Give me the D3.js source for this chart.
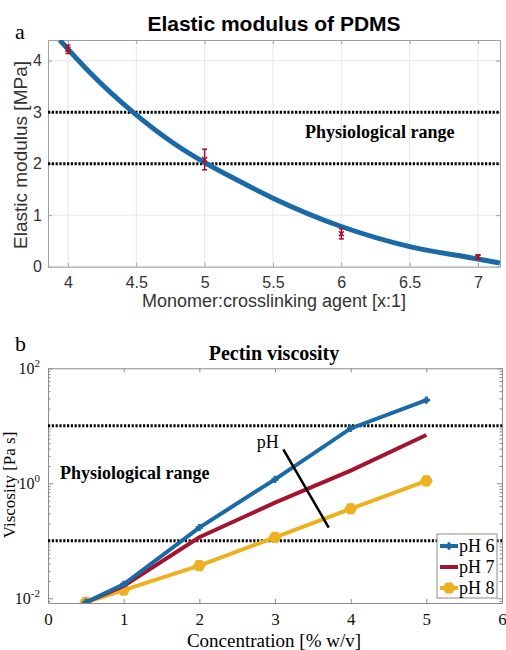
<!DOCTYPE html>
<html>
<head>
<meta charset="utf-8">
<script src="https://cdn.jsdelivr.net/npm/d3@7"></script>
<style>
body { margin: 0; background: #fff; }
svg { display: block; }
</style>
</head>
<body>
<div id="chart"></div>
<script>
// panel a : elastic modulus of PDMS
const modX = [4, 5, 6, 7];
const modY = [4.22, 2.08, 0.64, 0.19];
const modErr = [0.08, 0.2, 0.1, 0.04];
const fitX = [3.94, 4.16, 4.48, 4.77, 5.0, 5.21, 5.5, 6.0, 6.5, 7.0, 7.16];
const fitY = [4.4, 3.77, 2.99, 2.4, 2.02, 1.72, 1.33, 0.78, 0.39, 0.15, 0.07];
const physA = [2, 3];
const ticksAx = [4, 4.5, 5, 5.5, 6, 6.5, 7];
const ticksAy = [0, 1, 2, 3, 4];

// panel b : pectin viscosity
const conc = [0.5, 1, 2, 3, 4, 5];
const visc6 = [0.0085, 0.0175, 0.17, 1.17, 9.0, 28];
const visc7 = [0.0085, 0.0164, 0.115, 0.46, 1.66, 6.9];
const visc8 = [0.0085, 0.0139, 0.037, 0.115, 0.36, 1.1];
const seriesNames = ["pH 6", "pH 7", "pH 8"];
const physB = [0.1, 10];
const ticksBx = [0, 1, 2, 3, 4, 5, 6];
const ticksBy = [-2, 0, 2];
const phLineX = [3.11, 3.71];
const phLineY = [3.9, 0.17];

const SANS = "'Liberation Sans', Arial, sans-serif";
const SERIF = "'Liberation Serif', 'Times New Roman', serif";
const blue = "#1b6aa8", red = "#a2142f", yellow = "#edb120";

const svg = d3.select("#chart").append("svg")
	.attr("width", 506)
	.attr("height", 650);

// ---------- panel a ----------
const ax = d3.scaleLinear().domain([3.854, 7.161]).range([48, 500]);
const ay = d3.scaleLinear().domain([0, 4.4]).range([266.7, 40]);
const ga = svg.append("g");

ga.append("clipPath").attr("id", "clipA").append("rect")
	.attr("x", 48).attr("y", 40).attr("width", 452).attr("height", 226.7);

// grid
ga.selectAll(".gx").data(ticksAx).enter().append("line")
	.attr("x1", d => ax(d)).attr("x2", d => ax(d))
	.attr("y1", 40).attr("y2", 266.7)
	.attr("stroke", "#e6e6e6").attr("stroke-width", 1);
ga.selectAll(".gy").data(ticksAy).enter().append("line")
	.attr("x1", 48).attr("x2", 500)
	.attr("y1", d => ay(d)).attr("y2", d => ay(d))
	.attr("stroke", "#e6e6e6").attr("stroke-width", 1);

// axes (ticks inside, both sides)
ga.append("g").attr("transform", "translate(0,266.7)")
	.call(d3.axisBottom(ax).tickValues(ticksAx).tickSizeInner(-4).tickSizeOuter(0).tickPadding(10).tickFormat(d3.format("")));
ga.append("g").attr("transform", "translate(0,40)")
	.call(d3.axisTop(ax).tickValues(ticksAx).tickSizeInner(-4).tickSizeOuter(0).tickFormat(""));
ga.append("g").attr("transform", "translate(48,0)")
	.call(d3.axisLeft(ay).tickValues(ticksAy).tickSizeInner(-4).tickSizeOuter(0).tickPadding(6).tickFormat(d3.format("")));
ga.append("g").attr("transform", "translate(500,0)")
	.call(d3.axisRight(ay).tickValues(ticksAy).tickSizeInner(-4).tickSizeOuter(0).tickFormat(""));
ga.selectAll(".domain").attr("stroke", "#a0a0a0");
ga.selectAll(".tick line").attr("stroke", "#a0a0a0");
ga.selectAll(".tick text").attr("fill", "#333").style("font-family", SANS).style("font-size", "16px");

// physiological range lines
ga.selectAll(".phys").data(physA).enter().append("line")
	.attr("x1", 48).attr("x2", 500)
	.attr("y1", d => ay(d)).attr("y2", d => ay(d))
	.attr("stroke", "#000").attr("stroke-width", 3).attr("stroke-dasharray", "2.2,1.6");

// fitted curve
const fitLine = d3.line().x(d => ax(d[0])).y(d => ay(d[1])).curve(d3.curveMonotoneX);
ga.append("path").datum(d3.zip(fitX, fitY))
	.attr("clip-path", "url(#clipA)")
	.attr("d", fitLine)
	.attr("fill", "none").attr("stroke", blue).attr("stroke-width", 5);

// measured points with error bars
const pts = d3.zip(modX, modY, modErr);
const eb = ga.selectAll(".eb").data(pts).enter().append("g").attr("stroke", red).attr("stroke-width", 1.6);
eb.append("line").attr("x1", d => ax(d[0])).attr("x2", d => ax(d[0]))
	.attr("y1", d => ay(d[1] - d[2])).attr("y2", d => ay(d[1] + d[2]));
eb.append("line").attr("x1", d => ax(d[0]) - 2.5).attr("x2", d => ax(d[0]) + 2.5)
	.attr("y1", d => ay(d[1] - d[2])).attr("y2", d => ay(d[1] - d[2]));
eb.append("line").attr("x1", d => ax(d[0]) - 2.5).attr("x2", d => ax(d[0]) + 2.5)
	.attr("y1", d => ay(d[1] + d[2])).attr("y2", d => ay(d[1] + d[2]));
eb.append("path")
	.attr("transform", d => `translate(${ax(d[0])},${ay(d[1])})`)
	.attr("d", d3.symbol(d3.symbolX, 18))
	.attr("fill", "none");

// texts panel a
svg.append("text").attr("x", 274).attr("y", 31).attr("text-anchor", "middle")
	.style("font-family", SANS).style("font-weight", "bold").style("font-size", "21px")
	.text("Elastic modulus of PDMS");
svg.append("text").attr("x", 15).attr("y", 39)
	.style("font-family", SERIF).style("font-size", "22px").text("a");
svg.append("text").attr("transform", "translate(27,155) rotate(-90)").attr("text-anchor", "middle")
	.style("font-family", SANS).style("font-size", "19px").attr("fill", "#333")
	.text("Elastic modulus [MPa]");
svg.append("text").attr("x", 274).attr("y", 307).attr("text-anchor", "middle")
	.style("font-family", SANS).style("font-size", "18px").attr("fill", "#333")
	.text("Monomer:crosslinking agent [x:1]");
svg.append("text").attr("x", 305).attr("y", 138)
	.style("font-family", SERIF).style("font-weight", "bold").style("font-size", "18px")
	.text("Physiological range");

// ---------- panel b ----------
const bx = d3.scaleLinear().domain([0, 6]).range([48, 502]);
const by = d3.scaleLog().domain([0.00828, 100]).range([603, 368.3]);
const gb = svg.append("g");

gb.append("clipPath").attr("id", "clipB").append("rect")
	.attr("x", 48).attr("y", 368.3).attr("width", 454).attr("height", 234.7);

const minorB = [];
[-3, -2, -1, 0, 1].forEach(e => d3.range(2, 10).forEach(m => {
	const v = m * Math.pow(10, e);
	if (v > 0.00828 && v < 100) minorB.push(v);
}));
const majorB = ticksBy.map(e => Math.pow(10, e));

gb.append("g").attr("transform", "translate(0,603)")
	.call(d3.axisBottom(bx).tickValues(ticksBx).tickSizeInner(-4).tickSizeOuter(0).tickPadding(10).tickFormat(d3.format("")));
gb.append("g").attr("transform", "translate(0,368.3)")
	.call(d3.axisTop(bx).tickValues(ticksBx).tickSizeInner(-4).tickSizeOuter(0).tickFormat(""));
gb.append("g").attr("transform", "translate(48,0)")
	.call(d3.axisLeft(by).tickValues(majorB).tickSizeInner(-5).tickSizeOuter(0).tickFormat(""));
gb.append("g").attr("transform", "translate(502,0)")
	.call(d3.axisRight(by).tickValues(majorB).tickSizeInner(-5).tickSizeOuter(0).tickFormat(""));
gb.append("g").attr("transform", "translate(48,0)")
	.call(d3.axisLeft(by).tickValues(minorB).tickSizeInner(-2.5).tickSizeOuter(0).tickFormat(""));
gb.append("g").attr("transform", "translate(502,0)")
	.call(d3.axisRight(by).tickValues(minorB).tickSizeInner(-2.5).tickSizeOuter(0).tickFormat(""));
gb.selectAll(".domain").attr("stroke", "#8c8c8c");
gb.selectAll(".tick line").attr("stroke", "#8c8c8c");
gb.selectAll(".tick text").attr("fill", "#111").style("font-family", SERIF).style("font-size", "17px");

// log y tick labels 10^n
const yl = gb.selectAll(".ylab").data(ticksBy).enter().append("text")
	.attr("x", 40).attr("y", d => by(Math.pow(10, d)) + 6)
	.attr("text-anchor", "end")
	.style("font-family", SERIF).style("font-size", "16px").attr("fill", "#111");
yl.append("tspan").text("10");
yl.append("tspan").attr("dy", -7).style("font-size", "11px").text(d => d);

// physiological range lines
gb.selectAll(".phys").data(physB).enter().append("line")
	.attr("x1", 48).attr("x2", 502)
	.attr("y1", d => by(d)).attr("y2", d => by(d))
	.attr("stroke", "#000").attr("stroke-width", 3).attr("stroke-dasharray", "2.2,1.6");

// series
const hexagon = {
	draw(ctx, size) {
		const r = Math.sqrt(size / 2.598);
		for (let i = 0; i < 6; i++) {
			const a = Math.PI / 3 * i;
			if (i === 0) ctx.moveTo(r * Math.cos(a), r * Math.sin(a));
			else ctx.lineTo(r * Math.cos(a), r * Math.sin(a));
		}
		ctx.closePath();
	}
};
const series = [
	{ name: seriesNames[0], values: visc6, color: blue, sym: d3.symbolCross, size: 22 },
	{ name: seriesNames[1], values: visc7, color: red, sym: null, size: 0 },
	{ name: seriesNames[2], values: visc8, color: yellow, sym: hexagon, size: 90 }
];
const vLine = d3.line().x(d => bx(d[0])).y(d => by(d[1]));
const gs = gb.append("g").attr("clip-path", "url(#clipB)");
series.slice().reverse().forEach(s => {
	const data = d3.zip(conc, s.values);
	gs.append("path").datum(data).attr("d", vLine)
		.attr("fill", "none").attr("stroke", s.color).attr("stroke-width", 4);
	if (s.sym) {
		gs.selectAll(null).data(data).enter().append("path")
			.attr("transform", d => `translate(${bx(d[0])},${by(d[1])})`)
			.attr("d", d3.symbol(s.sym, s.size))
			.attr("fill", s.color).attr("stroke", s.color).attr("stroke-width", 1);
	}
});

// pH annotation
gb.append("line")
	.attr("x1", bx(phLineX[0])).attr("y1", by(phLineY[0]))
	.attr("x2", bx(phLineX[1])).attr("y2", by(phLineY[1]))
	.attr("stroke", "#000").attr("stroke-width", 2.5);
gb.append("text").attr("x", bx(2.76)).attr("y", by(4.1))
	.style("font-family", SERIF).style("font-size", "18px").text("pH");

// legend
const lg = gb.append("g").attr("transform", "translate(437,534)");
lg.append("rect").attr("width", 60).attr("height", 64)
	.attr("fill", "#fff").attr("stroke", "#8c8c8c").attr("stroke-width", 1);
series.forEach((s, i) => {
	const yy = 12 + i * 21;
	lg.append("line").attr("x1", 3).attr("x2", 21).attr("y1", yy).attr("y2", yy)
		.attr("stroke", s.color).attr("stroke-width", 4);
	if (s.sym) {
		lg.append("path").attr("transform", `translate(12,${yy})`)
			.attr("d", d3.symbol(s.sym, s.size)).attr("fill", s.color).attr("stroke", s.color);
	}
	lg.append("text").attr("x", 22).attr("y", yy + 6)
		.style("font-family", SERIF).style("font-size", "18px").text(s.name);
});

// texts panel b
svg.append("text").attr("x", 274).attr("y", 360).attr("text-anchor", "middle")
	.style("font-family", SERIF).style("font-weight", "bold").style("font-size", "20px")
	.text("Pectin viscosity");
svg.append("text").attr("x", 15).attr("y", 351)
	.style("font-family", SERIF).style("font-size", "22px").text("b");
svg.append("text").attr("transform", "translate(15,485) rotate(-90)").attr("text-anchor", "middle")
	.style("font-family", SERIF).style("font-size", "17px")
	.text("Viscosity [Pa s]");
svg.append("text").attr("x", 274).attr("y", 647).attr("text-anchor", "middle")
	.style("font-family", SERIF).style("font-size", "19px")
	.text("Concentration [% w/v]");
svg.append("text").attr("x", 60).attr("y", 479)
	.style("font-family", SERIF).style("font-weight", "bold").style("font-size", "18px")
	.text("Physiological range");
</script>
</body>
</html>
